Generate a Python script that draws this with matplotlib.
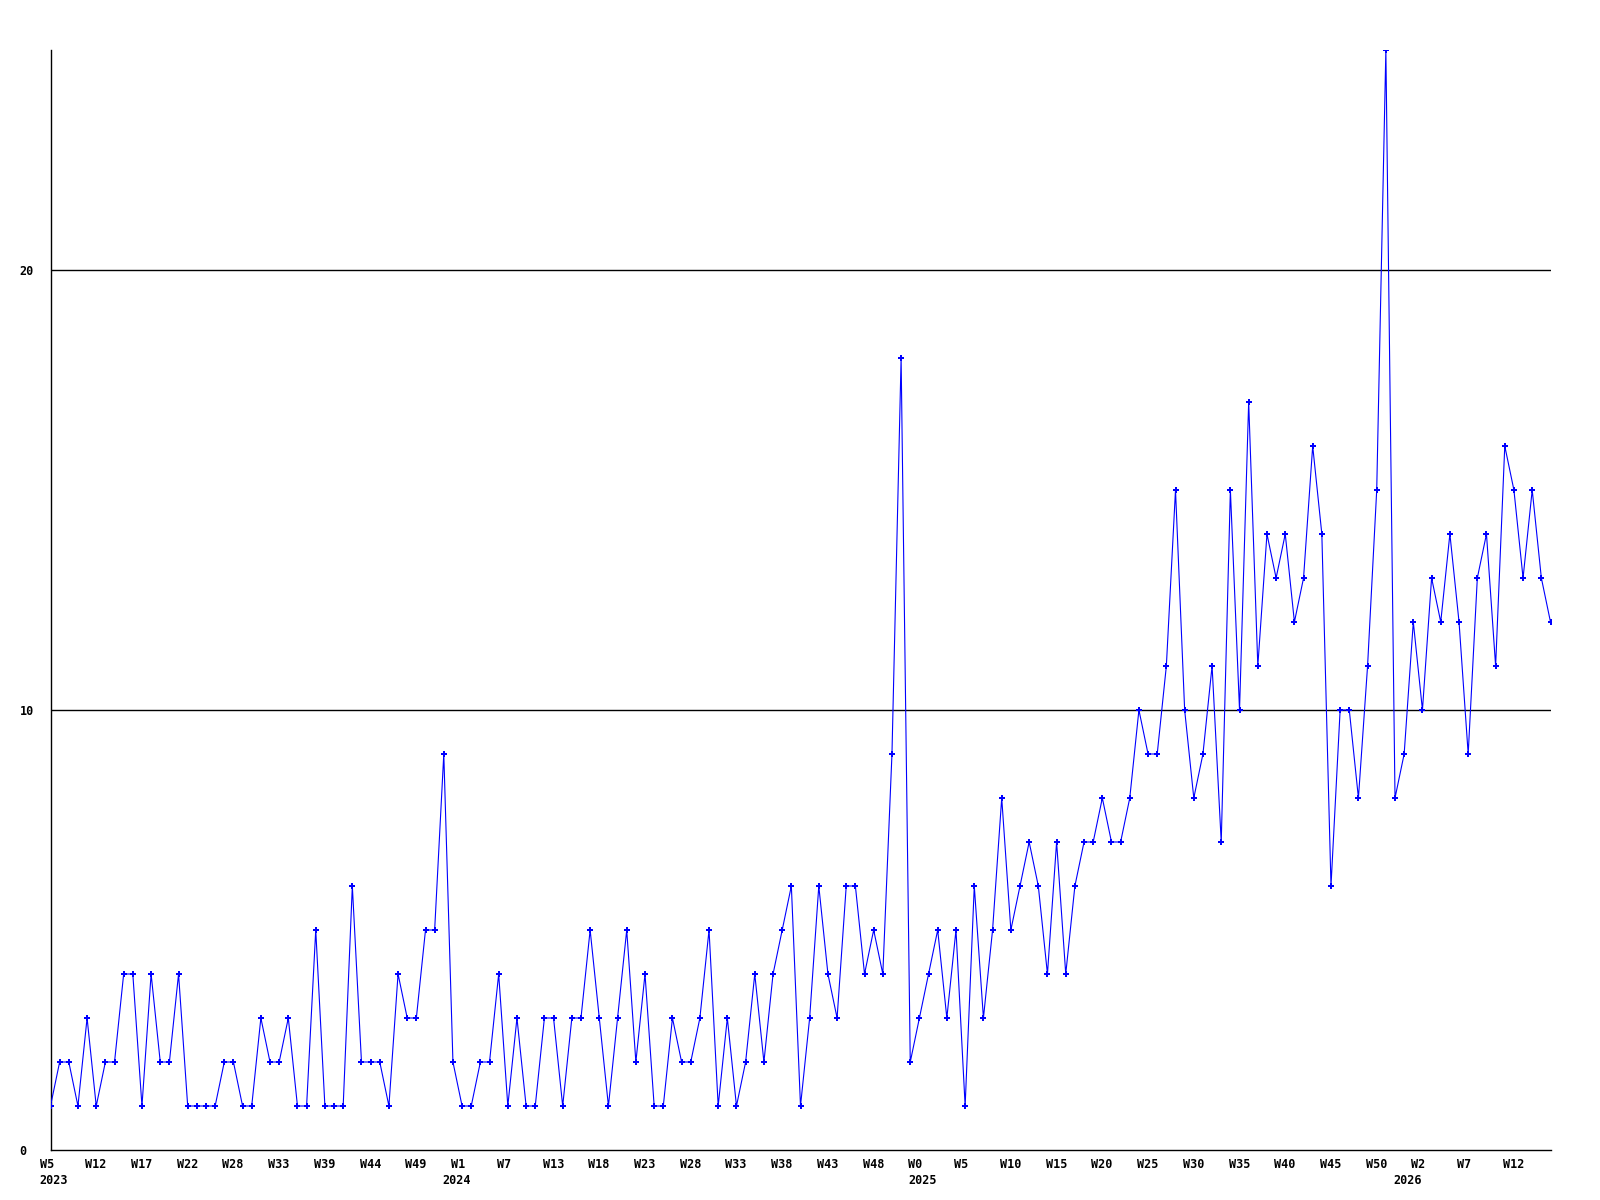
import matplotlib
matplotlib.use('Agg')
import matplotlib.pyplot as plt
import matplotlib.transforms as mtransforms
import numpy as np

# weekly counts, starting 2023 W5
counts = [1, 2, 2, 1, 3, 1, 2, 2, 4, 4, 1, 4, 2, 2, 4, 1, 1, 1, 1, 2,
          2, 1, 1, 3, 2, 2, 3, 1, 1, 5, 1, 1, 1, 6, 2, 2, 2, 1, 4, 3,
          3, 5, 5, 9, 2, 1, 1, 2, 2, 4, 1, 3, 1, 1, 3, 3, 1, 3, 3, 5,
          3, 1, 3, 5, 2, 4, 1, 1, 3, 2, 2, 3, 5, 1, 3, 1, 2, 4, 2, 4,
          5, 6, 1, 3, 6, 4, 3, 6, 6, 4, 5, 4, 9, 18, 2, 3, 4, 5, 3, 5,
          1, 6, 3, 5, 8, 5, 6, 7, 6, 4, 7, 4, 6, 7, 7, 8, 7, 7, 8, 10,
          9, 9, 11, 15, 10, 8, 9, 11, 7, 15, 10, 17, 11, 14, 13, 14, 12, 13, 16, 14,
          6, 10, 10, 8, 11, 15, 25, 8, 9, 12, 10, 13, 12, 14, 12, 9, 13, 14, 11, 16,
          15, 13, 15, 13, 12]

week_labels = ['W5', 'W12', 'W17', 'W22', 'W28', 'W33', 'W39', 'W44', 'W49',
               'W1', 'W7', 'W13', 'W18', 'W23', 'W28', 'W33', 'W38', 'W43', 'W48',
               'W0', 'W5', 'W10', 'W15', 'W20', 'W25', 'W30', 'W35', 'W40', 'W45', 'W50',
               'W2', 'W7', 'W12']
label_every = 5

years = ['2023', '2024', '2025', '2026']
year_at = [0, 44, 95, 148]   # week index where the year label sits

y_ticks = [0, 10, 20]

font = dict(family=['DejaVu Sans Mono'], fontweight='bold', fontsize=8.5)

weeks = np.arange(len(counts))

fig = plt.figure(figsize=(16, 12), dpi=100)
ax = fig.add_axes([50.5 / 1600, 50 / 1200, 1500 / 1600, 1100 / 1200])

for v in y_ticks[1:]:
    ax.axhline(v, color='black', linewidth=1, zorder=1)

ax.plot(weeks, counts, color='#0000ff', linewidth=0.8, marker='P',
        markersize=4.5, markeredgewidth=0, zorder=3)

for side in ['top', 'right']:
    ax.spines[side].set_visible(False)
for side in ['left', 'bottom']:
    ax.spines[side].set_color('black')
    ax.spines[side].set_linewidth(1)

ax.set_xticks([i * label_every for i in range(len(week_labels))])
ax.set_xticklabels(week_labels, ha='left', **font)
ax.tick_params(axis='x', length=0, pad=5.5)

# labels start a little left of their week
shift = mtransforms.ScaledTranslation(-11 / 100, 0, fig.dpi_scale_trans)
for lab in ax.get_xticklabels():
    lab.set_transform(lab.get_transform() + shift)

ax.set_yticks(y_ticks)
ax.set_yticklabels([str(v) for v in y_ticks], ha='left', **font)
ax.tick_params(axis='y', length=0, pad=22.3)

ax.set_xlim(0, len(counts) - 1)
ax.set_ylim(0, 25)

for yr, pos in zip(years, year_at):
    ax.annotate(yr, xy=(pos, 0), xycoords=('data', 'axes fraction'),
                xytext=(-11 * 0.72, -17.5), textcoords='offset points',
                ha='left', va='top', annotation_clip=False, **font)

plt.savefig('out.png', dpi=100)
